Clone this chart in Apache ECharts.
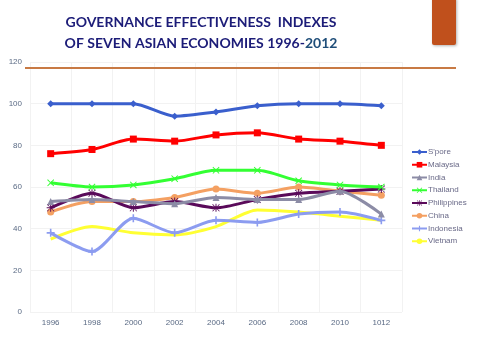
<!DOCTYPE html>
<html><head><meta charset="utf-8">
<script src="https://cdn.jsdelivr.net/npm/echarts@6/dist/echarts.min.js"></script>
<style>html,body{margin:0;padding:0;background:#fff}#c{width:480px;height:360px}</style>
</head><body><div id="c"></div>
<script>
const years = ['1996','1998','2000','2002','2004','2006','2008','2010','1012'];
const names = ["S'pore",'Malaysia','India','Thailand','Philippines','China','Indonesia','Vietnam'];
const spore = [100,100,100,94,96,99,100,100,99];
const malaysia = [76,78,83,82,85,86,83,82,80];
const india = [53,54,53,52,55,54,54,58,47];
const thailand = [62,60,61,64,68,68,63,61,60];
const philippines = [50,57,50,53,50,54,57,58,59];
const china = [48,53,53,55,59,57,60,58,56];
const indonesia = [38,29,45,38,44,43,47,48,44];
const vietnam = [35,41,38,37,41,49,48,46,44];
const yTicks = [0,20,40,60,80,100,120];

const seriesData = [spore,malaysia,india,thailand,philippines,china,indonesia,vietnam];
const colors = ['#3A5FCD','#FF0000','#8C8CA6','#33FF33','#5A0A5A','#F4A062','#8C9CF0','#FFFF33'];
const plus = 'path://M4,0H6V4H10V6H6V10H4V6H0V4H4Z';
const cross = 'path://M1,0L5,4L9,0L10,1L6,5L10,9L9,10L5,6L1,10L0,9L4,5L0,1Z';
const star = 'path://M4.4,0H5.6V4.1L8.9,0.3L9.7,1.1L5.9,4.4H10V5.6H5.9L9.7,8.9L8.9,9.7L5.6,5.9V10H4.4V5.9L1.1,9.7L0.3,8.9L4.1,5.6H0V4.4H4.1L0.3,1.1L1.1,0.3L4.4,4.1Z';
const symbols = ['diamond','rect','triangle',cross,star,'circle',plus,'none'];
const sizes = [7,7,7,7,8,7,8,0];

const chart = echarts.init(document.getElementById('c'));
chart.setOption({
  animation:false,
  color: colors,
  title:{
    text:'{a|GOVERNANCE EFFECTIVENESS  INDEXES}\n{a|OF SEVEN ASIAN ECONOMIES 1996-}{b|2012}',
    left:196, top:7, textAlign:'center',
    textStyle:{rich:{
      a:{fontFamily:'Lato, sans-serif',fontWeight:'bold',fontSize:14,color:'#1C1C78',lineHeight:21},
      b:{fontFamily:'Lato, sans-serif',fontWeight:'bold',fontSize:14,color:'#1F4E79',lineHeight:21}
    }}
  },
  graphic:[
    {type:'rect',shape:{x:432,y:-2,width:24,height:47,r:[0,0,2,2]},style:{fill:'#C0501C',shadowBlur:3,shadowColor:'rgba(0,0,0,0.3)',shadowOffsetX:1,shadowOffsetY:1}},
    {type:'line',shape:{x1:25,y1:68,x2:456,y2:68},style:{stroke:'#C87A44',lineWidth:2},z:10}
  ],
  legend:{
    orient:'vertical', left:411, top:148, padding:0, itemWidth:15, itemHeight:7, itemGap:4.75,
    textStyle:{fontFamily:'Liberation Sans, Arial, sans-serif',fontSize:8,color:'#6A6A88',padding:[0,0,0,-4]},
    data:names
  },
  grid:{left:30,right:78,top:62,bottom:48},
  xAxis:{
    type:'category', data:years, boundaryGap:true,
    axisLine:{show:false}, axisTick:{show:false},
    splitLine:{show:true,lineStyle:{color:'#F2F2F2'}},
    axisLabel:{fontFamily:'Liberation Sans, Arial, sans-serif',fontSize:8,color:'#5A6A84',margin:7,interval:0}
  },
  yAxis:{
    type:'value', min:yTicks[0], max:yTicks[yTicks.length-1], interval:20,
    axisLine:{show:false}, axisTick:{show:false},
    splitLine:{lineStyle:{color:'#F2F2F2'}},
    axisLabel:{fontFamily:'Liberation Sans, Arial, sans-serif',fontSize:8,color:'#5A6A84',margin:8}
  },
  series: names.map((n,i)=>({
    name:n, type:'line', data:seriesData[i], smooth:0.25,
    symbol:symbols[i], symbolSize:sizes[i], showSymbol: sizes[i]>0,
    lineStyle:{width:3,color:colors[i]}, itemStyle:{color:colors[i]},
    z: 10-i
  }))
});
</script></body></html>
